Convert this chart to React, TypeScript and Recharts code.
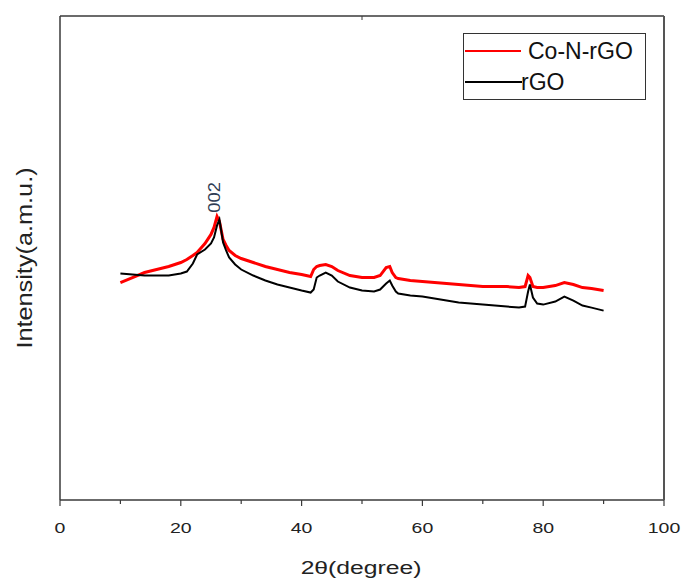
import { LineChart, Line, XAxis, YAxis, ReferenceDot, Label } from "recharts";

// 2θ positions (degree)
const twoTheta = [
  10, 12, 14, 16, 18, 20, 21, 22, 22.7, 24, 25, 25.5, 26, 26.4, 27, 27.5, 28, 29, 30, 32, 34,
  36, 38, 40, 41.5, 42, 42.5, 43, 44, 45, 46, 48, 50, 52, 53, 54, 54.6, 55, 55.6, 56, 58, 60,
  62, 64, 66, 68, 70, 72, 74, 76, 77, 77.5, 77.8, 78.3, 79, 80, 82, 83.5, 85, 86.5, 88, 90,
];

// intensity, arbitrary units
const coNrGO = [
  217, 222, 227, 230, 233, 237, 240, 244, 247, 256, 265, 272, 283, 278, 260, 254, 249, 244, 241,
  237, 233, 230, 227, 225, 223, 230, 233, 234, 235, 233, 229, 224, 222, 222, 224, 232, 233, 227,
  222, 221, 219, 218, 217, 216, 215, 214, 213, 213, 213, 212, 213, 224, 222, 213, 212, 212, 214,
  217, 215, 212, 211, 209,
];

const rGO = [
  226, 225, 224, 224, 224, 226, 228, 236, 245, 250, 256, 262, 274, 280, 257, 249, 242, 235, 230,
  224, 219, 215, 212, 209, 207, 210, 222, 224, 227, 224, 218, 212, 209, 208, 210, 216, 219, 214,
  208, 206, 204, 203, 201, 199, 197, 196, 195, 194, 193, 192, 193, 208, 215, 202, 196, 195, 198,
  203, 199, 194, 192, 189,
];

const xTicks = [0, 10, 20, 30, 40, 50, 60, 70, 80, 90, 100];
const Y_MAX = 483;

const data = twoTheta.map((t, i) => ({ t, coNrGO: coNrGO[i], rGO: rGO[i] }));

const FONT = "'Liberation Sans', Arial, sans-serif";
const FRAME = "#3a3a3a";

function BottomTick({ x, y, payload }: any) {
  const major = payload.value % 20 === 0;
  return (
    <g>
      <line x1={x} x2={x} y1={y} y2={y + (major ? 6 : 4)} stroke={FRAME} strokeWidth={1.2} />
      {major ? (
        <text
          transform={`translate(${x} ${y + 33}) scale(1.3 1)`}
          textAnchor="middle"
          fontSize={15}
          fill="#222"
          fontFamily={FONT}
        >
          {payload.value}
        </text>
      ) : null}
    </g>
  );
}

export default function App() {
  return (
    <div style={{ position: "absolute", left: 0, top: 0, width: 683, height: 579, background: "#fff" }}>
      <LineChart
        width={683}
        height={579}
        data={data}
        margin={{ top: 16, right: 19, bottom: 49, left: 59 }}
      >
        <XAxis
          xAxisId="bottom"
          dataKey="t"
          type="number"
          domain={[0, 100]}
          ticks={xTicks}
          height={30}
          tickSize={0}
          tickMargin={0}
          tickLine={false}
          tick={<BottomTick />}
          axisLine={{ stroke: FRAME, strokeWidth: 1.5 }}
          interval={0}
        >
          <Label
            content={() => (
              <text
                transform="translate(361 574) scale(1.3 1)"
                textAnchor="middle"
                fontSize={19}
                fill="#222"
                fontFamily={FONT}
              >
                2θ(degree)
              </text>
            )}
          />
        </XAxis>
        <XAxis
          xAxisId="top"
          orientation="top"
          dataKey="t"
          type="number"
          domain={[0, 100]}
          ticks={[50]}
          height={1}
          mirror
          tickSize={4}
          tickFormatter={() => ""}
          tickLine={{ stroke: FRAME }}
          axisLine={{ stroke: FRAME, strokeWidth: 1.5 }}
        />
        <YAxis
          yAxisId="left"
          domain={[0, Y_MAX]}
          width={1}
          tick={false}
          tickLine={false}
          axisLine={{ stroke: FRAME, strokeWidth: 1.5 }}
        >
          <Label
            content={() => (
              <text
                transform="translate(32 258) rotate(-90) scale(1.15 1)"
                textAnchor="middle"
                fontSize={22}
                fill="#222"
                fontFamily={FONT}
              >
                Intensity(a.m.u.)
              </text>
            )}
          />
        </YAxis>
        <YAxis
          yAxisId="right"
          orientation="right"
          domain={[0, Y_MAX]}
          ticks={[Y_MAX / 2]}
          width={1}
          mirror
          tickSize={6}
          tickFormatter={() => ""}
          tickLine={{ stroke: "#222", strokeWidth: 1.5 }}
          axisLine={{ stroke: "#555", strokeWidth: 2 }}
        />
        <Line
          xAxisId="bottom"
          yAxisId="left"
          dataKey="coNrGO"
          type="linear"
          stroke="#ff0000"
          strokeWidth={3}
          dot={false}
          isAnimationActive={false}
        />
        <Line
          xAxisId="bottom"
          yAxisId="left"
          dataKey="rGO"
          type="linear"
          stroke="#000"
          strokeWidth={2}
          dot={false}
          isAnimationActive={false}
        />
        <ReferenceDot
          xAxisId="bottom"
          yAxisId="left"
          x={26}
          y={302}
          r={1}
          fill="none"
          stroke="none"
          label={{
            content: ({ viewBox }: any) => (
              <text
                transform={`translate(${(viewBox?.x ?? 0) + (viewBox?.width ?? 0) / 2 + 3} ${(viewBox?.y ?? 0) + (viewBox?.height ?? 0) / 2}) rotate(-90) scale(1.15 1)`}
                textAnchor="middle"
                fontSize={16}
                fill="#2f3d55"
                fontFamily={FONT}
              >
                002
              </text>
            ),
          }}
        />
      </LineChart>
      <div
        style={{
          position: "absolute",
          left: 463,
          top: 33,
          width: 181,
          height: 65,
          border: "1.5px solid #333",
          fontFamily: FONT,
          fontSize: 23,
          lineHeight: "26px",
          color: "#111",
        }}
      >
        <div style={{ position: "absolute", left: 1, top: 16, width: 56, height: 1.5, background: "#ff0000" }} />
        <div style={{ position: "absolute", left: 64, top: 4 }}>Co-N-rGO</div>
        <div style={{ position: "absolute", left: 1, top: 47, width: 57, height: 1.5, background: "#000" }} />
        <div style={{ position: "absolute", left: 57, top: 35 }}>rGO</div>
      </div>
    </div>
  );
}
